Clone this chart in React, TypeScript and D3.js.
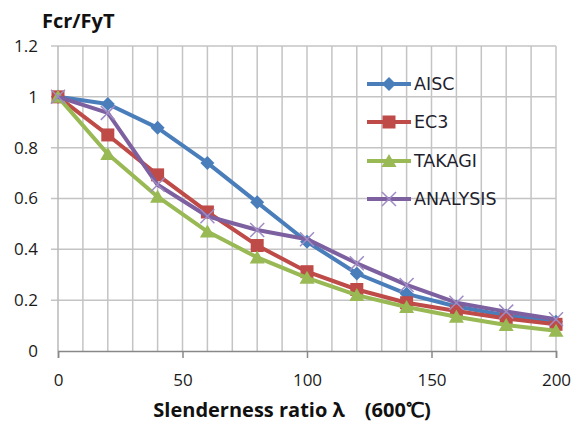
import React, { useEffect, useRef } from "react";
import * as d3 from "d3";

// slenderness ratio values
const lambdas = [0, 20, 40, 60, 80, 100, 120, 140, 160, 180, 200];

// Fcr/FyT per method
const aisc = [1, 0.972, 0.878, 0.74, 0.585, 0.43, 0.305, 0.225, 0.175, 0.14, 0.115];
const ec3 = [1, 0.85, 0.693, 0.547, 0.415, 0.312, 0.242, 0.19, 0.157, 0.128, 0.105];
const takagi = [1, 0.775, 0.607, 0.47, 0.368, 0.288, 0.22, 0.173, 0.135, 0.102, 0.08];
const analysis = [1, 0.937, 0.654, 0.53, 0.476, 0.44, 0.345, 0.26, 0.19, 0.155, 0.125];

const seriesNames = ["AISC", "EC3", "TAKAGI", "ANALYSIS"];
const xTicks = [0, 50, 100, 150, 200];
const yTicks = [0, 0.2, 0.4, 0.6, 0.8, 1, 1.2];

export default function App() {
    const svgRef = useRef<SVGSVGElement | null>(null);

    useEffect(() => {
        document.body.style.margin = "0";
        const svg = d3.select(svgRef.current);
        svg.selectAll("*").remove();

        const width = 572;
        const height = 422;
        const margin = { top: 46, right: 16, bottom: 71, left: 58 };

        const x = d3.scaleLinear().domain([0, 200]).range([margin.left, width - margin.right]);
        const y = d3.scaleLinear().domain([0, 1.2]).range([height - margin.bottom, margin.top]);

        const grid = svg.append("g");
        //vertical grid every 10
        grid.selectAll("line.v")
            .data(d3.range(10, 201, 10))
            .enter().append("line")
            .attr("x1", (d) => x(d)).attr("x2", (d) => x(d))
            .attr("y1", y(1.2)).attr("y2", y(0))
            .attr("stroke", "#c4c4c4").attr("stroke-width", 1.5);
        //horizontal grid
        grid.selectAll("line.h")
            .data(yTicks.slice(1))
            .enter().append("line")
            .attr("x1", x(0) - 7).attr("x2", x(200))
            .attr("y1", (d) => y(d)).attr("y2", (d) => y(d))
            .attr("stroke", "#c4c4c4").attr("stroke-width", 1.5);
        //y axis line
        svg.append("line")
            .attr("x1", x(0)).attr("x2", x(0)).attr("y1", y(1.2)).attr("y2", y(0))
            .attr("stroke", "#b8b8b8").attr("stroke-width", 1.5);

        //x axis
        const xAxis = svg.append("g")
            .attr("transform", `translate(0,${y(0)})`)
            .call(d3.axisBottom(x).tickValues(xTicks).tickSize(7).tickPadding(16).tickFormat(d3.format("d")));
        xAxis.select(".domain").attr("stroke", "#888").attr("stroke-width", 1.5);
        xAxis.selectAll(".tick line").attr("stroke", "#888").attr("stroke-width", 1.5);
        xAxis.selectAll("text")
            .attr("font-family", "Open Sans").attr("font-size", 17).attr("fill", "#1a1a1a");

        //y axis labels
        svg.append("g").selectAll("text")
            .data(yTicks)
            .enter().append("text")
            .attr("x", 38).attr("y", (d) => y(d))
            .attr("dy", "0.35em")
            .attr("text-anchor", "end")
            .attr("font-family", "Open Sans").attr("font-size", 17).attr("fill", "#1a1a1a")
            .text((d) => (d === 0 || d === 1 ? String(d) : d.toFixed(1)));

        //titles
        svg.append("text")
            .attr("x", 42).attr("y", 28)
            .attr("font-family", "Open Sans").attr("font-weight", "bold").attr("font-size", 20)
            .attr("fill", "#111")
            .text("Fcr/FyT");
        svg.append("text")
            .attr("x", 292).attr("y", 417)
            .attr("text-anchor", "middle")
            .attr("font-family", "Open Sans").attr("font-weight", "bold").attr("font-size", 20)
            .attr("fill", "#111")
            .text("Slenderness ratio λ\u3000(600℃)");

        const colors = ["#4a7ebb", "#be4b48", "#98b954", "#7d60a0"];
        const allSeries = [aisc, ec3, takagi, analysis];

        const line = d3.line<number>()
            .x((_, i) => x(lambdas[i]))
            .y((d) => y(d));

        const drawMarker = (g: any, k: number, cx: number, cy: number) => {
            const c = colors[k];
            if (k === 0) {
                g.append("path")
                    .attr("d", `M${cx},${cy - 7}L${cx + 7},${cy}L${cx},${cy + 7}L${cx - 7},${cy}Z`)
                    .attr("fill", c);
            } else if (k === 1) {
                g.append("rect")
                    .attr("x", cx - 6.5).attr("y", cy - 6.5).attr("width", 13).attr("height", 13)
                    .attr("fill", c);
            } else if (k === 2) {
                g.append("path")
                    .attr("d", `M${cx},${cy - 7}L${cx + 7.5},${cy + 6}L${cx - 7.5},${cy + 6}Z`)
                    .attr("fill", c);
            } else {
                g.append("path")
                    .attr("d", `M${cx - 7},${cy - 7}L${cx + 7},${cy + 7}M${cx - 7},${cy + 7}L${cx + 7},${cy - 7}`)
                    .attr("stroke", "#a08cc4").attr("stroke-width", 1.5).attr("fill", "none");
            }
        };

        allSeries.forEach((vals, k) => {
            const g = svg.append("g");
            g.append("path")
                .datum(vals)
                .attr("d", line)
                .attr("fill", "none")
                .attr("stroke", colors[k])
                .attr("stroke-width", 4)
                .attr("stroke-linejoin", "round");
            vals.forEach((v, i) => drawMarker(g, k, x(lambdas[i]), y(v)));
        });

        //legend
        const legendY = [84, 122, 161, 199];
        seriesNames.forEach((name, k) => {
            const g = svg.append("g");
            g.append("line")
                .attr("x1", 367).attr("x2", 411)
                .attr("y1", legendY[k]).attr("y2", legendY[k])
                .attr("stroke", colors[k]).attr("stroke-width", 4);
            drawMarker(g, k, 389, legendY[k]);
            g.append("text")
                .attr("x", 414).attr("y", legendY[k])
                .attr("dy", "0.35em")
                .attr("font-family", "DejaVu Sans").attr("font-size", 17.5).attr("fill", "#1f1f2f")
                .text(name);
        });
    }, []);

    return (
        <div>
            <svg ref={svgRef} width={572} height={422} style={{ display: "block", background: "#fff" }}></svg>
        </div>
    );
}
